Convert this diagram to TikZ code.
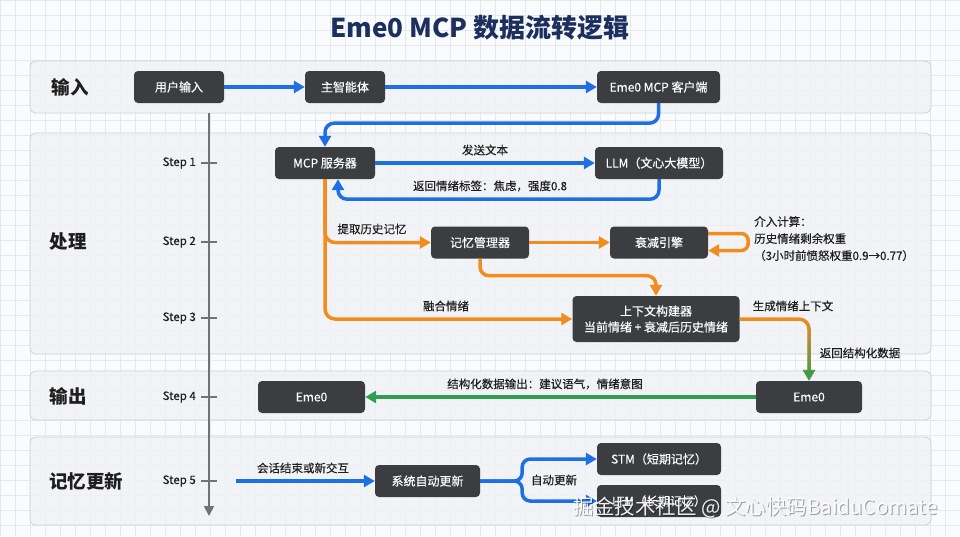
\documentclass[tikz,border=0pt]{standalone}
\usepackage{fontspec}
\setmainfont{Noto Sans CJK SC}
\newfontfamily\medfont{Noto Sans CJK SC}[FakeBold=0.35]
\usetikzlibrary{arrows.meta,fadings,calc}
\definecolor{bgc}{HTML}{FAFBFC}
\definecolor{gridc}{HTML}{E5E8EC}
\definecolor{lanec}{HTML}{F0F2F5}
\definecolor{laneb}{HTML}{CDD1D7}
\definecolor{nodec}{HTML}{3B3D41}
\definecolor{bluec}{HTML}{1E6FE3}
\definecolor{orangec}{HTML}{F28C1F}
\definecolor{greenc}{HTML}{2F9E52}
\definecolor{titlec}{HTML}{1C2F5E}
\definecolor{tlc}{HTML}{6F7378}
\definecolor{txtc}{HTML}{1E1E1E}
\tikzfading[name=fadedown, top color=transparent!100, middle color=transparent!25, bottom color=transparent!0]
\begin{document}
\begin{tikzpicture}[x=1pt,y=-1pt,
  lane/.style={fill=lanec, fill opacity=0.8, draw=laneb, line width=0.8pt, rounded corners=6pt},
  lanelabel/.style={font=\fontsize{18.5}{20}\selectfont\bfseries, text=txtc, inner sep=0pt},
  box/.style={fill=nodec, rounded corners=4pt, text=white, minimum height=32pt, inner sep=0pt, font=\medfont\fontsize{12}{14}\selectfont, align=center},
  lbl/.style={font=\medfont\fontsize{11.5}{13}\selectfont, text=txtc, inner sep=0pt},
  steplbl/.style={font=\medfont\fontsize{11.5}{13}\selectfont, text=txtc, inner sep=0pt, anchor=east},
  arr/.style={line width=3.5pt, -{Triangle[length=11pt,width=12pt]}},
  bluearrow/.style={arr, draw=bluec},
  orangearrow/.style={arr, draw=orangec},
  greenarrow/.style={arr, draw=greenc},
  timeline/.style={draw=tlc, line width=1.8pt, -{Triangle[length=10pt,width=10pt]}},
  tick/.style={draw=tlc, line width=1.5pt}
]
\useasboundingbox (0,0) rectangle (960,536);
\fill[bgc] (0,0) rectangle (960,536);
\foreach \x in {0,15,...,960} \draw[gridc, line width=0.6pt] (\x,0) -- (\x,536);
\foreach \y in {0,15,...,536} \draw[gridc, line width=0.6pt] (0,\y) -- (960,\y);

% title
\node[font=\fontsize{26}{30}\selectfont\bfseries, text=titlec, inner sep=0pt] (title) at (480,28) {Eme0 MCP 数据流转逻辑};

% lanes
\draw[lane] (30,61) rectangle (931,113);
\draw[lane] (30,133) rectangle (931,354);
\draw[lane] (30,371) rectangle (931,420);
\draw[lane] (30,437) rectangle (931,525);

\node[lanelabel] (lin) at (70,87) {输入};
\node[lanelabel] (lproc) at (68,242) {处理};
\node[lanelabel] (lout) at (68,396) {输出};
\node[lanelabel] (lmem) at (86,481) {记忆更新};

% timeline
\coordinate (tl0) at (209,113);
\coordinate (tl1) at (209,516);
\draw[timeline] (tl0) -- (tl1);
\foreach \y/\s in {163/1,242/2,318/3,397/4,481/5}{
  \draw[tick] (201,\y) -- (217,\y);
  \node[steplbl] at (196,\y) {Step \s};
}

% nodes
\node[box, minimum width=90pt] (user) at (179,87) {用户输入};
\node[box, minimum width=80pt] (agent) at (345,87) {主智能体};
\node[box, minimum width=123pt] (client) at (658.5,87) {Eme0 MCP 客户端};
\node[box, minimum width=100pt] (mcp) at (325,163) {MCP 服务器};
\node[box, minimum width=128pt] (llm) at (659,163) {LLM（文心大模型）};
\node[box, minimum width=98pt] (mem) at (480,242.5) {记忆管理器};
\node[box, minimum width=98pt] (decay) at (659,242.5) {衰减引擎};
\node[box, minimum width=167pt, minimum height=46pt, font=\medfont\fontsize{12}{16}\selectfont] (ctx) at (656,319) {上下文构建器\\当前情绪 + 衰减后历史情绪};
\node[box, minimum width=107pt] (eme0l) at (311.5,397) {Eme0};
\node[box, minimum width=106pt] (eme0r) at (809,397) {Eme0};
\node[box, minimum width=105pt] (sys) at (427.5,481) {系统自动更新};
\node[box, minimum width=124pt] (stm) at (659,459) {STM（短期记忆）};
\node[box, minimum width=124pt] (ltm) at (659,501) {LTM（长期记忆）};

% input flow
\draw[bluearrow] (user) -- (agent);
\draw[bluearrow] (agent) -- (client);
\draw[bluearrow, rounded corners=9pt] (client.south) -- ++(0,20) -| (mcp.north);

% MCP <-> LLM
\draw[bluearrow] (mcp) -- (llm);
\node[lbl] (l1) at (485,150) {发送文本};
\draw[bluearrow, rounded corners=9pt] (llm.south) -- ++(0,20) -| ([xshift=13pt]mcp.south);
\node[lbl] (l2) at (490,186) {返回情绪标签：焦虑，强度0.8};

% orange flows
\draw[orangearrow, rounded corners=10pt] (mcp.south) |- (ctx.west);
\draw[orangearrow, rounded corners=10pt] (mcp.south) |- (mem.west);
\node[lbl] (l3) at (372,229) {提取历史记忆};
\node[lbl] (l4) at (446,306) {融合情绪};
\draw[orangearrow] (mem) -- (decay);
\draw[orangearrow, rounded corners=9pt] (mem.south) -- ++(0,17) -| (ctx.north);
\draw[orangearrow, rounded corners=7pt] ([yshift=9pt]decay.east) -- ++(40,0) |- ([yshift=-8pt]decay.east);
\node[lbl, anchor=north west, align=left, font=\medfont\fontsize{11.5}{17}\selectfont] (l5) at (754,216) {介入计算：\\历史情绪剩余权重\\（3小时前愤怒权重0.9→0.77）};

% ctx -> eme0 right (gradient)
\draw[orangearrow, rounded corners=10pt] (ctx.east) -| (eme0r.north);
\draw[greenarrow, rounded corners=10pt, path fading=fadedown] (ctx.east) -| (eme0r.north);
\node[lbl] (l6) at (793,306) {生成情绪上下文};
\node[lbl] (l7) at (860,353) {返回结构化数据};

% output
\draw[greenarrow] (eme0r) -- (eme0l);
\node[lbl] (l8) at (545,384) {结构化数据输出：建议语气，情绪意图};

% memory update
\coordinate (s5) at (236,481);
\draw[bluearrow] (s5) -- (sys);
\node[lbl] (l9) at (303,468) {会话结束或新交互};
\draw[bluearrow, rounded corners=8pt] (sys.east) -- ++(42,0) |- (stm.west);
\draw[bluearrow, rounded corners=8pt] (sys.east) -- ++(42,0) |- (ltm.west);
\node[lbl] (l10) at (554,480) {自动更新};

% watermark
\node[font=\fontsize{20.5}{22}\selectfont, text=black, opacity=0.35, inner sep=0pt] (wms) at (756.5,509) {掘金技术社区 @ 文心快码BaiduComate};
\node[font=\fontsize{20.5}{22}\selectfont, text=white, opacity=0.92, inner sep=0pt] (wm) at (755.5,508) {掘金技术社区 @ 文心快码BaiduComate};
\end{tikzpicture}
\end{document}
